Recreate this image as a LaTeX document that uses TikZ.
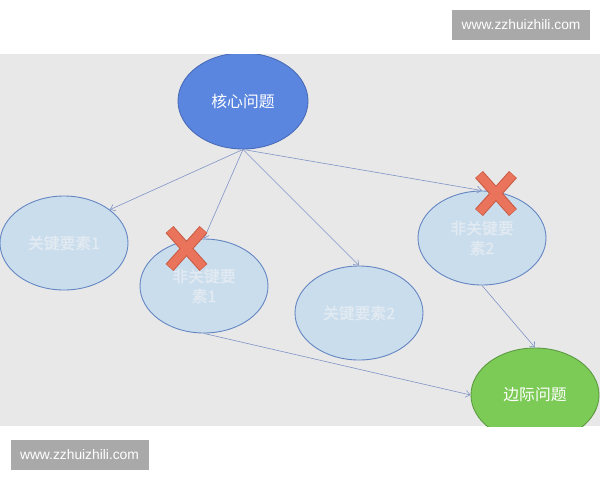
\documentclass[tikz,border=0pt]{standalone}
\usepackage{fontspec}
\setmainfont{Liberation Sans}
\newfontfamily\cjk{Noto Sans CJK SC}
\newfontfamily\cjkfb[FakeBold=1.3]{Noto Sans CJK SC}
\usetikzlibrary{shapes.geometric,arrows.meta}
\definecolor{bggray}{HTML}{E8E8E8}
\definecolor{wmgray}{HTML}{A9A9A9}
\definecolor{corefill}{HTML}{5A86E0}
\definecolor{coreline}{HTML}{4A6CB8}
\definecolor{lightfill}{HTML}{CADDED}
\definecolor{lightline}{HTML}{6486C2}
\definecolor{greenfill}{HTML}{7DCB57}
\definecolor{greenline}{HTML}{5C9A42}
\definecolor{arrowcol}{HTML}{7F94C6}
\definecolor{faint}{HTML}{E2EAF2}
\definecolor{xfill}{HTML}{EA735B}
\definecolor{xline}{HTML}{C75A44}
\begin{document}
\begin{tikzpicture}[x=1pt,y=-1pt,
  elbase/.style={ellipse, inner sep=0pt, line width=0.9pt, align=center},
  corebox/.style={elbase, fill=corefill, draw=coreline, minimum width=130pt, minimum height=96pt, text=white, font=\cjk\fontsize{15.8}{18}\selectfont},
  lightbox/.style={elbase, fill=lightfill, draw=lightline, minimum width=128pt, minimum height=94pt, text=faint, font=\cjkfb\fontsize{15.8}{20}\selectfont},
  greenbox/.style={elbase, fill=greenfill, draw=greenline, minimum width=128pt, minimum height=94pt, text=white, font=\cjk\fontsize{15.8}{18}\selectfont},
  arr/.style={draw=arrowcol, line width=0.6pt, -{Straight Barb[length=4.5pt,width=7pt,line width=0.6pt]}},
  wmbox/.style={fill=wmgray, minimum width=138pt, minimum height=30pt, inner sep=0pt, text=white, font=\fontsize{13.8}{16}\selectfont},
  xdark/.style={draw=xline, line width=10.5pt, line cap=butt},
  xlight/.style={draw=xfill, line width=8.5pt, line cap=butt}
]
\useasboundingbox (0,0) rectangle (600,480);
\fill[white] (0,0) rectangle (600,480);
\fill[bggray] (0,54) rectangle (600,426);
\begin{scope}
\clip (0,54) rectangle (600,426);
\node[corebox] (core) at (243,101) {核心问题};
\node[lightbox] (key1) at (64,243) {关键要素1};
\node[lightbox] (nk1) at (204,286) {非关键要\\素1};
\node[lightbox] (key2) at (359,313) {关键要素2};
\node[lightbox] (nk2) at (482,238) {非关键要\\素2};
\node[greenbox] (edge) at (535,395) {边际问题};
\draw[arr] (core.south) -- (key1.36);
\draw[arr] (core.south) -- (nk1.north);
\draw[arr] (core.south) -- (key2.north);
\draw[arr] (core.south) -- (nk2.north);
\draw[arr] (nk2.south) -- (edge.north);
\draw[arr] (nk1.south) -- (edge.west);
% red crosses
\coordinate (xa) at (186.5,248.5);
\coordinate (xb) at (496,193.5);
\foreach \c in {xa,xb}{
  \draw[xdark] ([shift={(-17,-19)}]\c) -- ([shift={(17,19)}]\c);
  \draw[xdark] ([shift={(17,-19)}]\c) -- ([shift={(-17,19)}]\c);
}
\foreach \c in {xa,xb}{
  \draw[xlight] ([shift={(-16.6,-18.6)}]\c) -- ([shift={(16.6,18.6)}]\c);
  \draw[xlight] ([shift={(16.6,-18.6)}]\c) -- ([shift={(-16.6,18.6)}]\c);
}
\end{scope}
\node[wmbox] (wm1) at (521,25) {www.zzhuizhili.com};
\node[wmbox] (wm2) at (79.5,455) {www.zzhuizhili.com};
\end{tikzpicture}
\end{document}
